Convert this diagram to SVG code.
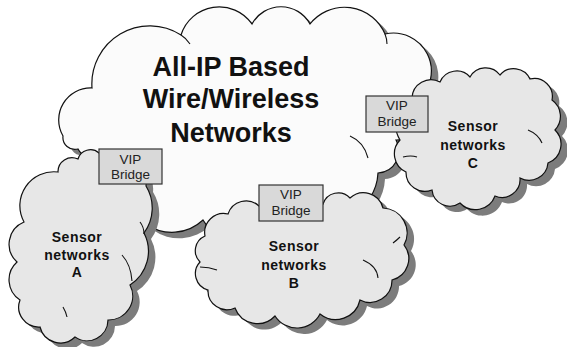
<svg xmlns="http://www.w3.org/2000/svg" width="567" height="347" viewBox="0 0 567 347">
<style>
.shadow{fill:#7c7c7c;stroke:none}
.main{fill:#fbfbfb;stroke:#111;stroke-width:1.2}
.sensor{fill:#e7e7e7;stroke:#111;stroke-width:1.2}
.inner{fill:none;stroke:#111;stroke-width:1.1}
.box{fill:#d9d9d9;stroke:#333;stroke-width:1.2}
.bt{font-family:"Liberation Sans",Arial,sans-serif;font-size:13.5px;fill:#222;text-anchor:middle}
.st{font-family:"Liberation Sans",Arial,sans-serif;font-size:14px;font-weight:bold;fill:#111;text-anchor:middle;letter-spacing:0.5px}
.mt{font-family:"Liberation Sans",Arial,sans-serif;font-size:27px;font-weight:bold;fill:#111;text-anchor:middle}
</style>
<defs>
<path id="pMain" d="M63,136 A32,32 0 0,1 92,88 A58,58 0 0,1 181,35 A40,40 0 0,1 252,24 A33,33 0 0,1 310,24 A44,44 0 0,1 385,34 A38,38 0 0,1 418,100 A26,26 0 0,1 396,140 A22,22 0 0,1 378,173 A50,50 0 0,1 300,212 A54,54 0 0,1 203,220 A45,45 0 0,1 146,224 A50,50 0 0,1 100,153 A14,14 0 0,1 78,149 A12,12 0 0,1 63,136 Z"/>
<path id="pA" d="M58,172 A14,14 0 0,1 78,159 A13,13 0 0,1 99,153 A33,33 0 0,1 146,186 A42,42 0 0,1 144,233 A40,40 0 0,1 130,285 A24,24 0 0,1 108,320 A21,21 0 0,1 75,337 A21,21 0 0,1 40,327 A20,20 0 0,1 20,300 A24,24 0 0,1 17,262 A24,24 0 0,1 24,222 A34,34 0 0,1 58,172 Z"/>
<path id="pB" d="M205,236 A19,19 0 0,1 228,214 A19,19 0 0,1 259,206 A60,60 0 0,1 323,204 A16,16 0 0,1 350,198 A20,20 0 0,1 383,208 A25,25 0 0,1 404,245 A22,22 0 0,1 392,280 A22,22 0 0,1 360,300 A25,25 0 0,1 320,314 A26,26 0 0,1 275,316 A24,24 0 0,1 235,308 A19,19 0 0,1 208,290 A17,17 0 0,1 200,262 A16,16 0 0,1 205,236 Z"/>
<path id="pC" d="M412,98 A19,19 0 0,1 440,82 A18,18 0 0,1 470,77 A18,18 0 0,1 500,75 A18,18 0 0,1 530,79 A18,18 0 0,1 552,100 A20,20 0 0,1 555,130 A20,20 0 0,1 548,163 A19,19 0 0,1 520,178 A18,18 0 0,1 495,196 A21,21 0 0,1 460,203 A18,18 0 0,1 432,190 A19,19 0 0,1 406,172 A20,20 0 0,1 400,140 A30,30 0 0,1 412,98 Z"/>
</defs>

<g id="cloud-main">
<use href="#pMain" class="shadow" transform="translate(7,6)"/>
<use href="#pMain" class="main"/>
<path class="inner" d="M181,35 q5,3 9,9 M385,34 q2,5 2,10 M350,136 q14,6 18,22"/>
<text class="mt" x="231" y="76">All-IP Based</text>
<text class="mt" x="231" y="108">Wire/Wireless</text>
<text class="mt" x="231" y="142">Networks</text>
</g>

<g id="sensor-a">
<use href="#pA" class="shadow" transform="translate(7,6)"/>
<use href="#pA" class="sensor"/>
<path class="inner" d="M140,222 q4,5 4,12 M122,255 q9,10 10,26 M63,307 q3,5 4,10"/>
<text class="st" x="77" y="242">Sensor</text>
<text class="st" x="77" y="260">networks</text>
<text class="st" x="77" y="277">A</text>
</g>

<g id="sensor-b">
<use href="#pB" class="shadow" transform="translate(7,6)"/>
<use href="#pB" class="sensor"/>
<path class="inner" d="M393,243 q4,-3 7,-6 M363,260 q14,6 15,18 M200,267 q9,0 17,3"/>
<text class="st" x="294" y="251">Sensor</text>
<text class="st" x="294" y="270">networks</text>
<text class="st" x="294" y="288">B</text>
</g>

<g id="sensor-c">
<use href="#pC" class="shadow" transform="translate(7,6)"/>
<use href="#pC" class="sensor"/>
<path class="inner" d="M528,130 q10,4 14,13 M403,157 q8,-2 14,0"/>
<text class="st" x="473" y="131">Sensor</text>
<text class="st" x="473" y="150">networks</text>
<text class="st" x="473" y="168">C</text>
</g>

<g id="bridge-a">
<rect class="box" x="99" y="149" width="63" height="35"/>
<text class="bt" x="130.5" y="164">VIP</text>
<text class="bt" x="130.5" y="179">Bridge</text>
</g>
<g id="bridge-b">
<rect class="box" x="259" y="185" width="64" height="36"/>
<text class="bt" x="291" y="199">VIP</text>
<text class="bt" x="291" y="215">Bridge</text>
</g>
<g id="bridge-c">
<rect class="box" x="366" y="96" width="62" height="36"/>
<text class="bt" x="397" y="110">VIP</text>
<text class="bt" x="397" y="126">Bridge</text>
</g>
</svg>
